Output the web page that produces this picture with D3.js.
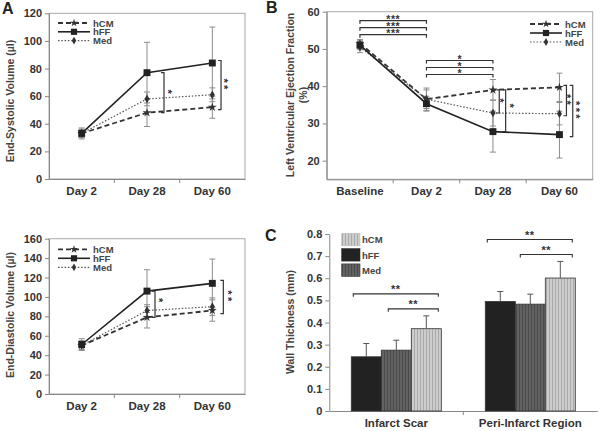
<!DOCTYPE html>
<html><head><meta charset="utf-8">
<script src="https://cdn.jsdelivr.net/npm/d3@7"></script>
<style>body{margin:0;background:#fff}svg{display:block;font-family:"Liberation Sans",Arial,sans-serif;font-weight:bold}</style>
</head><body><svg id="c" width="600" height="431"></svg>
<script>
// ---------- DATA ----------
const seriesNames = ["hCM", "hFF", "Med"];
const days = ["Day 2", "Day 28", "Day 60"];
const esvHCM = [33, 48, 52], esvHCMErr = [3, 10, 8];
const esvHFF = [33, 77, 84], esvHFFErr = [4, 22, 26];
const esvMed = [33, 58, 61], esvMedErr = [3, 5, 5];
const esvTicks = [0, 20, 40, 60, 80, 100, 120];
const esvSig = [["Day 28", "hFF", "hCM", "*"], ["Day 60", "hFF", "hCM", "**"]];

const edvHCM = [50, 79, 86], edvHCMErr = [4, 11, 11];
const edvHFF = [51, 106, 114], edvHFFErr = [6, 22, 25];
const edvMed = [50, 86, 90], edvMedErr = [5, 6, 9];
const edvTicks = [0, 20, 40, 60, 80, 100, 120, 140, 160];
const edvSig = [["Day 28", "hFF", "hCM", "*"], ["Day 60", "hFF", "hCM", "**"]];

const efDays = ["Baseline", "Day 2", "Day 28", "Day 60"];
const efHCM = [51.5, 36.5, 39, 39.7], efHCMErr = [1, 3, 2.8, 3.8];
const efHFF = [51, 35.3, 27.8, 27], efHFFErr = [1.2, 2, 5.5, 6.3];
const efMed = [50.5, 36.5, 32.8, 32.6], efMedErr = [1.5, 2.5, 3.5, 3];
const efTicks = [20, 30, 40, 50, 60];
const efSig = [["Day 28", "hCM", "Med", "*"], ["Day 28", "hCM", "hFF", "*"],
               ["Day 60", "hCM", "Med", "**"], ["Day 60", "hCM", "hFF", "***"]];
const efHSig = [["Baseline", "Day 2", ["***", "***", "***"]], ["Day 2", "Day 28", ["*", "*", "*"]]];

const regions = ["Infarct Scar", "Peri-Infarct Region"];
const barOrder = ["hFF", "Med", "hCM"];
const wtHFF = [0.245, 0.495], wtHFFErr = [0.06, 0.045];
const wtMed = [0.275, 0.483], wtMedErr = [0.045, 0.045];
const wtHCM = [0.372, 0.601], wtHCMErr = [0.058, 0.075];
const wtTicks = [0, 0.1, 0.2, 0.3, 0.4, 0.5, 0.6, 0.7, 0.8];
const wtSig = [["Infarct Scar", "hFF", "hCM", "**"], ["Infarct Scar", "Med", "hCM", "**"],
               ["Peri-Infarct Region", "hFF", "hCM", "**"], ["Peri-Infarct Region", "Med", "hCM", "**"]];

// ---------- STYLE ----------
const svg = d3.select("#c");
const lineStyle = {
  hCM: {dash: "5,3", w: 1.8, c: "#333", mc: "#333", sym: d3.symbolStar, size: 24},
  hFF: {dash: null, w: 1.6, c: "#222", mc: "#222", sym: d3.symbolSquare, size: 48},
  Med: {dash: "1.5,1.8", w: 1.2, c: "#555", mc: "#333", sym: d3.symbolDiamond, size: 22}
};
const errColor = "#8c8c8c";

function styleAxis(a, fs) {
  a.select(".domain").attr("stroke", "#888");
  a.selectAll(".tick line").attr("stroke", "#888");
  a.selectAll(".tick text").attr("fill", "#333").style("font-size", fs + "px").style("font-weight", "bold");
}

function stars(g, x, yc, label, vertical, fs) {
  if (vertical) {
    g.append("text").attr("transform", `translate(${x - 0.57 * fs},${yc}) rotate(90)`)
      .attr("text-anchor", "middle").attr("fill", "#333").style("font-size", fs + "px")
      .style("letter-spacing", "2.3px").text(label);
  } else {
    g.append("text").attr("x", x).attr("y", yc + 0.57 * fs).attr("text-anchor", "middle")
      .attr("fill", "#333").style("font-size", fs + "px").style("letter-spacing", "0.5px").text(label);
  }
}

function linePanel(o) {
  const g = svg.append("g");
  const x = d3.scaleBand().domain(o.cats).range([o.x0, o.x1]);
  const cx = c => x(c) + x.bandwidth() / 2;
  const y = d3.scaleLinear().domain(o.domain).range([o.yb, o.yt]);
  g.append("rect").attr("x", o.x0).attr("y", o.yt).attr("width", o.x1 - o.x0).attr("height", o.yb - o.yt)
    .attr("fill", "none").attr("stroke", "#a8a8a8");
  const ya = g.append("g").attr("transform", `translate(${o.x0},0)`)
    .call(d3.axisLeft(y).tickValues(o.ticks).tickSize(4).tickPadding(3).tickSizeOuter(0));
  styleAxis(ya, 11);
  const xa = g.append("g").attr("transform", `translate(0,${o.yb})`)
    .call(d3.axisBottom(x).tickSize(0).tickPadding(8).tickSizeOuter(0));
  styleAxis(xa, 11.5);
  o.cats.slice(1).forEach(c => g.append("line").attr("x1", x(c)).attr("x2", x(c))
    .attr("y1", o.yb).attr("y2", o.yb + 4).attr("stroke", "#888"));

  // error bars
  o.series.forEach(s => {
    s.vals.forEach((v, i) => {
      const X = cx(o.cats[i]);
      const lo = y(v - s.errs[i]), hi = y(v + s.errs[i]);
      g.append("line").attr("x1", X).attr("x2", X).attr("y1", lo).attr("y2", hi).attr("stroke", errColor);
      [lo, hi].forEach(yy => g.append("line").attr("x1", X - 3).attr("x2", X + 3).attr("y1", yy).attr("y2", yy).attr("stroke", errColor));
    });
  });
  // lines & markers
  o.series.forEach(s => {
    const st = lineStyle[s.name];
    const ln = d3.line().x((d, i) => cx(o.cats[i])).y(d => y(d));
    g.append("path").attr("d", ln(s.vals)).attr("fill", "none").attr("stroke", st.c)
      .attr("stroke-width", st.w).attr("stroke-dasharray", st.dash);
    s.vals.forEach((v, i) => g.append("path").attr("d", d3.symbol().type(st.sym).size(st.size)())
      .attr("transform", `translate(${cx(o.cats[i])},${y(v)})`).attr("fill", st.mc));
  });
  // legend
  seriesNames.forEach((n, i) => {
    const st = lineStyle[n];
    const ly = o.legend.y + i * o.legend.dy;
    g.append("line").attr("x1", o.legend.x).attr("x2", o.legend.x + 32).attr("y1", ly).attr("y2", ly)
      .attr("stroke", st.c).attr("stroke-width", st.w).attr("stroke-dasharray", st.dash);
    g.append("path").attr("d", d3.symbol().type(st.sym).size(st.size * 0.8)())
      .attr("transform", `translate(${o.legend.x + 16},${ly})`).attr("fill", st.mc);
    g.append("text").attr("x", o.legend.x + 35).attr("y", ly + 3.5).attr("fill", "#444")
      .style("font-size", "9.5px").text(n);
  });
  // vertical significance brackets
  const byName = {};
  o.series.forEach(s => byName[s.name] = s);
  o.sig.forEach((sg, k) => {
    const [cat, a, b, lab] = sg;
    const i = o.cats.indexOf(cat);
    const bx = cx(cat) + o.sigDx[k];
    const ya1 = y(byName[a].vals[i]) - o.sigExt[k], yb1 = y(byName[b].vals[i]) + o.sigExt[k];
    g.append("path").attr("d", `M${bx - 3},${ya1}H${bx}V${yb1}H${bx - 3}`).attr("fill", "none")
      .attr("stroke", "#333").attr("stroke-width", 1.2);
    stars(g, bx + o.starDx[k], (ya1 + yb1) / 2 + o.starDy[k], lab, true, 11);
  });
  // y label
  const t = g.append("text").attr("transform", `translate(${o.lx},${o.ly}) rotate(-90)`)
    .attr("text-anchor", "middle").attr("fill", "#444").style("font-size", "10.5px");
  o.ylabel.forEach((l, i) => t.append("tspan").attr("x", 0).attr("dy", i === 0 ? 0 : 13).text(l));
  return {g, x, y, cx, byName};
}

// Panel A top
linePanel({
  x0: 49, x1: 245, yt: 13.3, yb: 179, domain: [0, 120], ticks: esvTicks, cats: days,
  series: [{name: "hCM", vals: esvHCM, errs: esvHCMErr}, {name: "Med", vals: esvMed, errs: esvMedErr},
           {name: "hFF", vals: esvHFF, errs: esvHFFErr}],
  legend: {x: 58, y: 23, dy: 8.8}, sig: esvSig, sigDx: [17, 8.7], sigExt: [0, 2.5],
  starDx: [6, 5], starDy: [0, 0],
  lx: 14, ly: 101, ylabel: ["End-Systolic Volume (µl)"]
});
// Panel A bottom
linePanel({
  x0: 49, x1: 245, yt: 238.7, yb: 394, domain: [0, 160], ticks: edvTicks, cats: days,
  series: [{name: "hCM", vals: edvHCM, errs: edvHCMErr}, {name: "Med", vals: edvMed, errs: edvMedErr},
           {name: "hFF", vals: edvHFF, errs: edvHFFErr}],
  legend: {x: 58, y: 249.3, dy: 9}, sig: edvSig, sigDx: [8, 11], sigExt: [0, 3],
  starDx: [6, 6.7], starDy: [-3, 0],
  lx: 14, ly: 315, ylabel: ["End-Diastolic Volume (µl)"]
});
// Panel B
const pB = linePanel({
  x0: 326.7, x1: 592.7, yt: 11.7, yb: 179.3, domain: [15, 60], ticks: efTicks, cats: efDays,
  series: [{name: "hCM", vals: efHCM, errs: efHCMErr}, {name: "Med", vals: efMed, errs: efMedErr},
           {name: "hFF", vals: efHFF, errs: efHFFErr}],
  legend: {x: 530, y: 24, dy: 9}, sig: efSig, sigDx: [6.3, 12.7, 7, 13.3], sigExt: [0, 0, 2, 2],
  starDx: [3.3, 6.6, 3.3, 6], starDy: [0, -4, 0, 0],
  lx: 294, ly: 95, ylabel: ["Left Ventricular Ejection Fraction", "(%)"]
});
// horizontal stacked brackets B (stars of one stack in a single text element)
efHSig.forEach(([c1, c2, labs]) => {
  const i1 = efDays.indexOf(c1), i2 = efDays.indexOf(c2);
  let top = Infinity;
  [[efHCM, efHCMErr], [efHFF, efHFFErr], [efMed, efMedErr]].forEach(([v, e]) => {
    for (let i = i1; i <= i2; i++) top = Math.min(top, pB.y(v[i] + e[i]));
  });
  const xa = pB.cx(c1), xb = pB.cx(c2), fs = 10.5;
  const txt = pB.g.append("text").attr("text-anchor", "middle").attr("fill", "#333")
    .style("font-size", fs + "px").style("letter-spacing", "0.5px");
  labs.forEach((lab, j) => {
    const yy = top - 5 - j * 7;
    pB.g.append("path").attr("d", `M${xa},${yy + 3}V${yy}H${xb}V${yy + 3}`).attr("fill", "none")
      .attr("stroke", "#333").attr("stroke-width", 1.2);
    txt.append("tspan").attr("x", (xa + xb) / 2).attr("y", yy - 3.5 + 0.57 * fs).text(lab);
  });
});

// Panel C
(function () {
  const g = svg.append("g");
  const x0 = 329.3, x1 = 597.3, yt = 234, yb = 411;
  const xs = d3.scaleBand().domain(regions).range([x0, x1]);
  const xi = d3.scaleBand().domain(barOrder).range([0, xs.bandwidth()]).paddingOuter(0.733);
  const y = d3.scaleLinear().domain([0, 0.8]).range([yb, yt]);
  const defs = svg.append("defs");
  function pat(id, base, stripe) {
    const p = defs.append("pattern").attr("id", id).attr("patternUnits", "userSpaceOnUse")
      .attr("width", 3).attr("height", 3);
    p.append("rect").attr("width", 3).attr("height", 3).attr("fill", base);
    p.append("rect").attr("width", 1).attr("height", 3).attr("fill", stripe);
  }
  pat("pMed", "#626262", "#4a4a4a");
  pat("pHCM", "#cdcdcd", "#a9a9a9");
  const fills = {hFF: "#222", Med: "url(#pMed)", hCM: "url(#pHCM)"};
  const data = {hFF: [wtHFF, wtHFFErr], Med: [wtMed, wtMedErr], hCM: [wtHCM, wtHCMErr]};

  const ya = g.append("g").attr("transform", `translate(${x0},0)`)
    .call(d3.axisLeft(y).tickValues(wtTicks).tickFormat(d => d === 0 ? "0" : d3.format(".1f")(d))
      .tickSize(4).tickPadding(3).tickSizeOuter(0));
  styleAxis(ya, 11);
  const xa = g.append("g").attr("transform", `translate(0,${yb})`)
    .call(d3.axisBottom(xs).tickSize(0).tickPadding(8).tickSizeOuter(0));
  styleAxis(xa, 11.5);
  g.append("line").attr("x1", xs(regions[1])).attr("x2", xs(regions[1])).attr("y1", yb).attr("y2", yb + 4).attr("stroke", "#888");

  regions.forEach((r, ri) => {
    barOrder.forEach(s => {
      const [v, e] = data[s];
      const bx = xs(r) + xi(s), bw = xi.bandwidth();
      g.append("rect").attr("x", bx).attr("y", y(v[ri])).attr("width", bw).attr("height", yb - y(v[ri]))
        .attr("fill", fills[s]).attr("stroke", "#333").attr("stroke-width", 0.8);
      const cx = bx + bw / 2, hi = y(v[ri] + e[ri]);
      g.append("line").attr("x1", cx).attr("x2", cx).attr("y1", y(v[ri])).attr("y2", hi).attr("stroke", "#555");
      g.append("line").attr("x1", cx - 3).attr("x2", cx + 3).attr("y1", hi).attr("y2", hi).attr("stroke", "#555");
    });
  });
  // significance
  const startInset = [2, 7, 2, 5];
  wtSig.forEach(([r, a, b, lab], k) => {
    const ri = regions.indexOf(r);
    const top = d3.min(barOrder, s => y(data[s][0][ri] + data[s][1][ri]));
    const order = wtSig.filter(d => d[0] === r).indexOf(wtSig[k]);
    const yy = top - 22 + order * 15;
    const xa1 = xs(r) + xi(a) + startInset[k], xb1 = xs(r) + xi(b) + xi.bandwidth() - 3;
    g.append("path").attr("d", `M${xa1},${yy + 3}V${yy}H${xb1}V${yy + 3}`).attr("fill", "none")
      .attr("stroke", "#333").attr("stroke-width", 1.1);
    stars(g, (xa1 + xb1) / 2, yy - 7, lab, false, 11);
  });
  // legend
  ["hCM", "hFF", "Med"].forEach((n, i) => {
    const ly = 233.3 + i * 15.3;
    g.append("rect").attr("x", 341.7).attr("y", ly).attr("width", 18.3).attr("height", 12.5)
      .attr("fill", fills[n]).attr("stroke", n === "hCM" ? "#bbb" : "#333").attr("stroke-width", 0.6);
    g.append("text").attr("x", 362).attr("y", ly + 10).attr("fill", "#444").style("font-size", "9.5px").text(n);
  });
  g.append("text").attr("transform", `translate(294,322) rotate(-90)`).attr("text-anchor", "middle")
    .attr("fill", "#444").style("font-size", "10.5px").text("Wall Thickness (mm)");
})();

// panel letters
[["A", 2, 14], ["B", 266, 13], ["C", 265, 241]].forEach(([t, x, y]) =>
  svg.append("text").attr("x", x).attr("y", y).attr("fill", "#222").style("font-size", "16px").text(t));
</script></body></html>
